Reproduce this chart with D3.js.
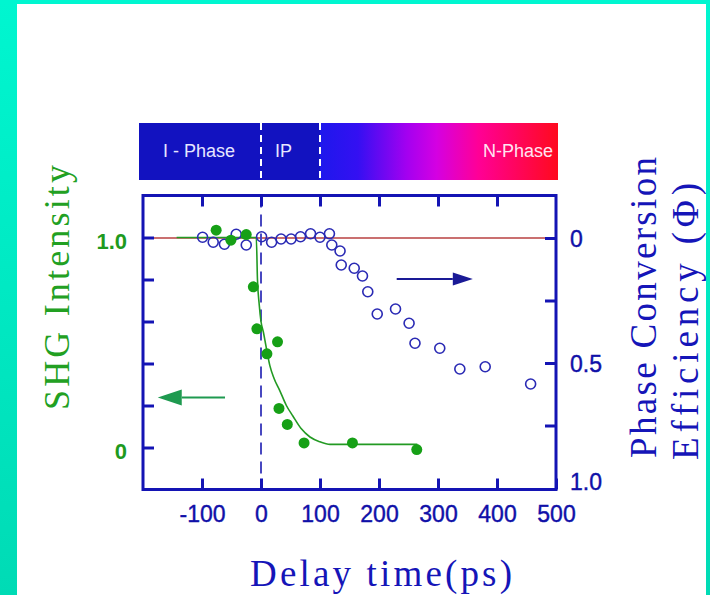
<!DOCTYPE html>
<html><head><meta charset="utf-8">
<script src="https://cdn.jsdelivr.net/npm/d3@7"></script>
<style>html,body{margin:0;padding:0;background:#fff;overflow:hidden}</style>
</head><body><script>
// ---- data ----
const shgTime  = [-76, -51, -25, -13, -7, 10, 28, 30.5, 44.6, 73, 155, 264];
const shgValue = [1.035, 0.987, 1.014, 0.765, 0.565, 0.446, 0.503, 0.186, 0.11, 0.022, 0.022, -0.01];
const fitTime  = [-143, -8, -6, -3, 0, 4, 8, 15, 22, 32, 43, 54, 68, 83, 100, 117, 140, 265];
const fitValue = [1, 1, 0.8, 0.68, 0.6, 0.55, 0.49, 0.39, 0.33, 0.27, 0.2, 0.15, 0.09, 0.05, 0.027, 0.015, 0.015, 0.015];
const phiTime  = [-99, -81, -62, -42, -25, 1, 18, 34, 51, 67, 84, 100, 116, 120, 134, 136, 158, 172, 181, 197, 228, 251, 261, 303, 337, 380, 457];
const phiValue = [-0.003, 0.017, 0.025, -0.015, 0.028, -0.005, 0.017, 0.004, 0.004, -0.005, -0.017, -0.003, -0.017, 0.028, 0.052, 0.108, 0.121, 0.152, 0.215, 0.304, 0.284, 0.341, 0.421, 0.441, 0.524, 0.515, 0.584];
const xTicks = [-100, 0, 100, 200, 300, 400, 500];
const leftTicks = [0, 0.2, 0.4, 0.6, 0.8, 1.0];
const leftLabels = {0: "0", 1: "1.0"};
const rightTicks = [0, 0.25, 0.5, 0.75];
const rightLabelValues = [0, 0.5, 1.0];
const rightLabels = ["0", "0.5", "1.0"];
const phaseNames = ["I - Phase", "IP", "N-Phase"];
const phaseBounds = [0, 100];
const phaseLabelTime = [-105, 38];

// ---- layout ----
const W = 710, H = 595;
const x = d3.scaleLinear().domain([-200, 500]).range([143, 556]);
const yL = d3.scaleLinear().domain([0, 1]).range([447.5, 237.5]);
const yR = d3.scaleLinear().domain([0, 1]).range([238, 488]);
const frameTop = yL(1.2), frameBot = yL(-0.2);
const blue = "#1414b4", green = "#16a016";

const svg = d3.select("body").append("svg").attr("width", W).attr("height", H);
const defs = svg.append("defs");
svg.append("rect").attr("width", W).attr("height", H).attr("fill", "#fff");

const tg = defs.append("linearGradient").attr("id", "teal").attr("x1", 0).attr("y1", 0).attr("x2", 0).attr("y2", 1);
tg.append("stop").attr("offset", 0).attr("stop-color", "#00f6d0");
tg.append("stop").attr("offset", 1).attr("stop-color", "#00dbb5");
svg.append("rect").attr("x", 0).attr("y", 0).attr("width", 17).attr("height", H).attr("fill", "url(#teal)");
svg.append("rect").attr("x", 0).attr("y", 0).attr("width", W).attr("height", 4).attr("fill", "#00f6d0");
svg.append("rect").attr("x", 706).attr("y", 0).attr("width", 4).attr("height", H).attr("fill", "url(#teal)");

// ---- phase bar ----
const barX0 = x(-200) - 4, barX1 = x(500) + 2, barY0 = 123, barY1 = 180;
const pg = defs.append("linearGradient").attr("id", "phase").attr("gradientUnits", "userSpaceOnUse")
  .attr("x1", barX0).attr("y1", 0).attr("x2", barX1).attr("y2", 0);
const split = (x(phaseBounds[1]) - barX0) / (barX1 - barX0);
[[0, "#1212c0"], [split, "#1212c0"], [split, "#1e18ec"], [split + 0.09, "#3410f2"], [0.64, "#a400f0"],
 [0.71, "#d400e2"], [0.81, "#ff0096"], [1, "#ff0a1e"]].forEach(s =>
  pg.append("stop").attr("offset", s[0]).attr("stop-color", s[1]));
svg.append("rect").attr("x", barX0).attr("y", barY0).attr("width", barX1 - barX0).attr("height", barY1 - barY0)
  .attr("fill", "url(#phase)");
phaseBounds.forEach(t => svg.append("line").attr("x1", x(t)).attr("x2", x(t)).attr("y1", barY0).attr("y2", barY1)
  .attr("stroke", "#fff").attr("stroke-width", 2).attr("stroke-dasharray", "7,5"));
const barFont = "'Liberation Sans', Arial, sans-serif";
svg.append("text").attr("x", x(phaseLabelTime[0])).attr("y", 157).attr("text-anchor", "middle")
  .attr("font-family", barFont).attr("font-size", 18).attr("fill", "#e6e6ff").text(phaseNames[0]);
svg.append("text").attr("x", x(phaseLabelTime[1])).attr("y", 157).attr("text-anchor", "middle")
  .attr("font-family", barFont).attr("font-size", 18).attr("fill", "#e6e6ff").text(phaseNames[1]);
svg.append("text").attr("x", barX1 - 5).attr("y", 157).attr("text-anchor", "end")
  .attr("font-family", barFont).attr("font-size", 18).attr("fill", "#ffe4f2").text(phaseNames[2]);

// ---- reference lines ----
svg.append("line").attr("x1", x(-200)).attr("x2", x(500)).attr("y1", yR(0)).attr("y2", yR(0))
  .attr("stroke", "#b84040").attr("stroke-width", 1.5);
svg.append("line").attr("x1", x(0)).attr("x2", x(0)).attr("y1", frameTop).attr("y2", frameBot)
  .attr("stroke", "#4848c0").attr("stroke-width", 2).attr("stroke-dasharray", "12,7");

// ---- fit curve ----
const fitData = fitTime.map((t, i) => [t, fitValue[i]]);
svg.append("path").datum(fitData)
  .attr("d", d3.line().x(d => x(d[0])).y(d => yL(d[1])).curve(d3.curveMonotoneX))
  .attr("fill", "none").attr("stroke", "#239a23").attr("stroke-width", 1.6);

// ---- phi (open circles) ----
svg.append("g").selectAll("circle").data(phiTime.map((t, i) => [t, phiValue[i]])).join("circle")
  .attr("cx", d => x(d[0])).attr("cy", d => yR(d[1])).attr("r", 5)
  .attr("fill", "none").attr("stroke", "#2a2ab4").attr("stroke-width", 1.6);

// ---- SHG (filled circles) ----
svg.append("g").selectAll("circle").data(shgTime.map((t, i) => [t, shgValue[i]])).join("circle")
  .attr("cx", d => x(d[0])).attr("cy", d => yL(d[1])).attr("r", 5.5).attr("fill", green);

// ---- arrows ----
function arrow(t0, t1, yy, color, head, half) {
  const xa = x(t0), xb = x(t1), dir = Math.sign(xb - xa);
  svg.append("line").attr("x1", xa).attr("x2", xb - dir * head).attr("y1", yy).attr("y2", yy)
    .attr("stroke", color).attr("stroke-width", 2);
  svg.append("path").attr("d", `M${xb},${yy}L${xb - dir * head},${yy - half}L${xb - dir * head},${yy + half}Z`)
    .attr("fill", color);
}
arrow(230, 359, yR(0.164), "#1a1a96", 20, 6.5);
arrow(-61, -175, yL(0.238), "#1f9a50", 24, 8);

// ---- axes ----
const tickFont = "'Liberation Sans', Arial, sans-serif";
const gB = svg.append("g").attr("transform", `translate(0,${frameBot})`)
  .call(d3.axisBottom(x).tickValues(xTicks).tickSize(-11).tickPadding(16).tickFormat(d => String(d)));
const gT = svg.append("g").attr("transform", `translate(0,${frameTop})`)
  .call(d3.axisTop(x).tickValues(xTicks.slice(0, -1)).tickSize(-11).tickFormat(""));
const gL = svg.append("g").attr("transform", `translate(${x(-200)},0)`)
  .call(d3.axisLeft(yL).tickValues(leftTicks).tickSize(-11).tickPadding(16).tickFormat(d => leftLabels[d] || ""));
const gR = svg.append("g").attr("transform", `translate(${x(500)},0)`)
  .call(d3.axisRight(yR).tickValues(rightTicks).tickSize(-11).tickFormat(""));
[gB, gT, gL, gR].forEach(g => {
  g.select(".domain").remove();
  g.selectAll(".tick line").attr("stroke", blue).attr("stroke-width", 3);
});
gB.selectAll("text").attr("font-family", tickFont).attr("font-size", 23).attr("fill", "#1010a8")
  .attr("stroke", "#1010a8").attr("stroke-width", 0.4);
gL.selectAll("text").attr("font-family", tickFont).attr("font-size", 22).attr("font-weight", "bold")
  .attr("fill", "#1e9a1e").attr("dy", "0.5em");
// right labels
svg.append("g").selectAll("text").data(rightLabelValues).join("text")
  .attr("x", x(500) + 14).attr("y", (d, i) => yR(d) + (i === 2 ? 2 : 9))
  .attr("font-family", tickFont).attr("font-size", 23).attr("fill", "#1010a8")
  .attr("stroke", "#1010a8").attr("stroke-width", 0.4)
  .text((d, i) => rightLabels[i]);

// frame
svg.append("rect").attr("x", x(-200)).attr("y", frameTop).attr("width", x(500) - x(-200))
  .attr("height", frameBot - frameTop).attr("fill", "none").attr("stroke", blue).attr("stroke-width", 3);

// ---- titles ----
const titleFont = "'Liberation Serif', 'Times New Roman', serif";
svg.append("text").attr("x", 381).attr("y", 586).attr("text-anchor", "middle")
  .attr("font-family", titleFont).attr("font-size", 37).attr("fill", "#1515b8")
  .attr("textLength", 262).attr("lengthAdjust", "spacing").text("Delay time(ps)");
svg.append("text").attr("transform", "translate(69,287.5) rotate(-90)").attr("text-anchor", "middle")
  .attr("font-family", titleFont).attr("font-size", 36).attr("fill", "#22a022")
  .attr("textLength", 245).attr("lengthAdjust", "spacing").text("SHG Intensity");
svg.append("text").attr("transform", "translate(656,458) rotate(-90)").attr("text-anchor", "start")
  .attr("font-family", titleFont).attr("font-size", 37).attr("fill", "#1515b8")
  .attr("textLength", 301).attr("lengthAdjust", "spacing").text("Phase Conversion");
svg.append("text").attr("transform", "translate(698,460) rotate(-90)").attr("text-anchor", "start")
  .attr("font-family", titleFont).attr("font-size", 37).attr("fill", "#1515b8")
  .attr("textLength", 277).attr("lengthAdjust", "spacing").text("Efficiency (Φ)");
</script></body></html>
